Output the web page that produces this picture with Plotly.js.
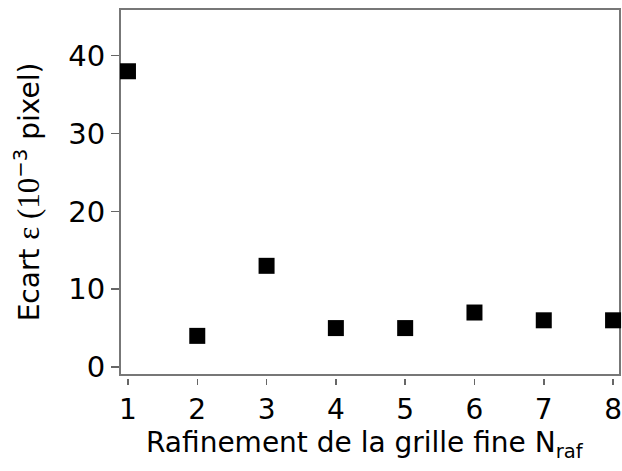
<!DOCTYPE html>
<html>
<head>
<meta charset="utf-8">
<script src="https://cdn.plot.ly/plotly-3.0.1.min.js"></script>
<style>html,body{margin:0;padding:0;background:#fff;}</style>
</head>
<body>
<div id="chart" style="width:622px;height:471px;"></div>
<script>
const nraf = [1, 2, 3, 4, 5, 6, 7, 8];
const ecart = [38, 4, 13, 5, 5, 7, 6, 6];
const yTicks = [0, 10, 20, 30, 40];
const xTicks = [1, 2, 3, 4, 5, 6, 7, 8];

const trace = {
  x: nraf, y: ecart, type: 'scatter', mode: 'markers',
  marker: {symbol: 'square', size: 16, color: '#000', line: {width: 0}},
  cliponaxis: false, showlegend: false
};

const layout = {
  width: 622, height: 471,
  margin: {l: 120, r: 2, t: 9, b: 93},
  paper_bgcolor: '#fff', plot_bgcolor: '#fff',
  font: {family: 'DejaVu Sans', color: '#000', size: 28},
  xaxis: {
    range: [0.885, 8.1], tickvals: xTicks, ticktext: xTicks.map(String),
    ticks: 'outside', ticklen: 6, tickwidth: 1.5, tickcolor: '#666',
    showline: false, showgrid: false, zeroline: false,
    anchor: 'free', position: 0, ticklabeloverflow: 'allow',
    tickfont: {size: 28, family: 'DejaVu Sans'}
  },
  yaxis: {
    domain: [0.0081, 1],
    range: [-1.03, 46], tickvals: yTicks, ticktext: yTicks.map(String),
    ticks: 'outside', ticklen: 8, tickwidth: 1.5, tickcolor: '#666',
    showline: false, showgrid: false, zeroline: false,
    tickfont: {size: 29, family: 'DejaVu Sans'},
    title: {text: 'Ecart <span style="font-family:Liberation Serif;font-size:31px">ε (10</span><sup>−3</sup> pixel)', font: {size: 28, family: 'DejaVu Sans'}, standoff: 20}
  },
  annotations: [{
    text: 'Rafinement de la grille fine N<sub>raf</sub>',
    xref: 'paper', yref: 'paper', x: 0.49, y: -0.124, xanchor: 'center', yanchor: 'top',
    showarrow: false, font: {size: 28, family: 'DejaVu Sans', color: '#000'}
  }],
  shapes: [{type: 'rect', xref: 'paper', yref: 'y domain', x0: 0, x1: 1, y0: 0, y1: 1,
            line: {color: '#777', width: 2}, fillcolor: 'rgba(0,0,0,0)', layer: 'below'}]
};

Plotly.newPlot('chart', [trace], layout, {displayModeBar: false, staticPlot: true});
</script>
</body>
</html>
